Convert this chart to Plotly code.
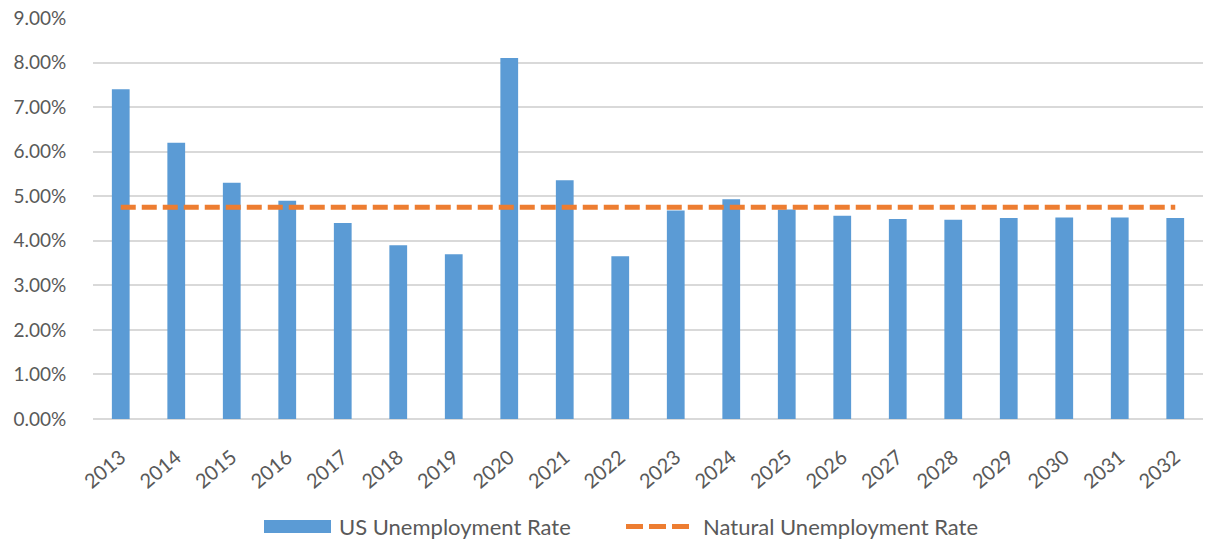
import plotly.graph_objects as go

# Annual US unemployment rate (actual and projected) against the natural rate
years = [str(y) for y in range(2013, 2033)]
us_rate = [0.0740, 0.0620, 0.0530, 0.0490, 0.0440, 0.0390, 0.0370, 0.0810, 0.0536, 0.0365,
           0.0468, 0.0493, 0.0470, 0.0456, 0.0449, 0.0447, 0.0451, 0.0452, 0.0452, 0.0451]
natural_rate = [0.0475, 0.0475, 0.0475, 0.0475, 0.0475, 0.0475, 0.0475, 0.0475, 0.0475, 0.0475,
                0.0475, 0.0475, 0.0475, 0.0475, 0.0475, 0.0475, 0.0475, 0.0475, 0.0475, 0.0475]
series_names = ["US Unemployment Rate", "Natural Unemployment Rate"]

BLUE = "#5B9BD5"
ORANGE = "#ED7D31"
TEXT = "#595959"
GRID = "#D9D9D9"
FONT = "Lato, 'Open Sans', sans-serif"

W, H = 1205, 539
L, R, T, B = 93, 2, 18, 120

fig = go.Figure()
fig.add_trace(go.Bar(x=years, y=us_rate, name=series_names[0],
                     marker=dict(color=BLUE, line=dict(width=0)), showlegend=False))
fig.add_trace(go.Scatter(x=years, y=natural_rate, name=series_names[1], mode="lines",
                         line=dict(color=ORANGE, width=5, dash="15px,6px"), showlegend=False))

# legend drawn beneath the plot area (pixel -> paper helpers)
pw, ph = W - L - R, H - T - B
def px(x):
    return (x - L) / pw
def py(y):
    return (H - B - y) / ph

shapes = [
    dict(type="rect", xref="paper", yref="paper", x0=px(264), x1=px(331), y0=py(533), y1=py(520),
         fillcolor=BLUE, line=dict(width=0)),
    dict(type="line", xref="paper", yref="paper", x0=px(626), x1=px(690), y0=py(526.5), y1=py(526.5),
         line=dict(color=ORANGE, width=5, dash="17px,6px")),
]
annotations = [
    dict(xref="paper", yref="paper", x=px(337), y=py(526), text=series_names[0], showarrow=False,
         xanchor="left", yanchor="middle", font=dict(family=FONT, size=22, color=TEXT)),
    dict(xref="paper", yref="paper", x=px(701), y=py(526), text=series_names[1], showarrow=False,
         xanchor="left", yanchor="middle", font=dict(family=FONT, size=22, color=TEXT)),
]

fig.update_layout(
    width=W, height=H, autosize=False,
    margin=dict(l=L, r=R, t=T, b=B, pad=0),
    paper_bgcolor="white", plot_bgcolor="white",
    bargap=0.68,
    font=dict(family=FONT, size=19, color=TEXT),
    shapes=shapes, annotations=annotations,
)
fig.update_xaxes(type="category", tickangle=-40, showgrid=False, showline=False,
                 ticks="outside", ticklen=18, tickcolor="rgba(0,0,0,0)",
                 tickfont=dict(size=20, color=TEXT), automargin=False)
fig.update_yaxes(range=[0, 0.09], dtick=0.01, tickformat=".2%", showgrid=True,
                 gridcolor=GRID, gridwidth=1.5, zeroline=True, zerolinecolor=GRID,
                 zerolinewidth=1.5, showline=False, ticks="outside", ticklen=22,
                 tickcolor="rgba(0,0,0,0)", tickfont=dict(size=19, color=TEXT), automargin=False)

fig.write_html("out.html")
